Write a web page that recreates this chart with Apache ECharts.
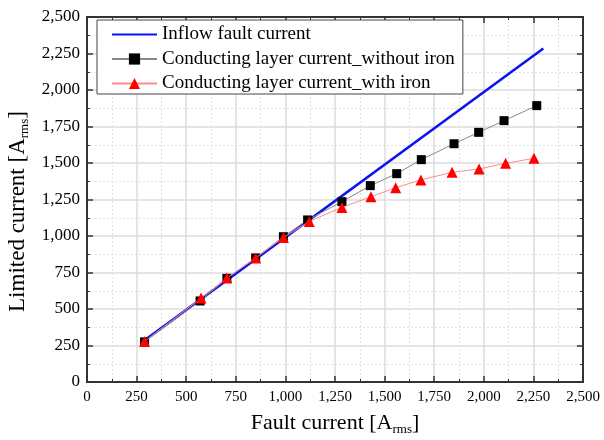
<!DOCTYPE html>
<html><head><meta charset="utf-8">
<script src="https://cdn.jsdelivr.net/npm/echarts@6/dist/echarts.min.js"></script>
<style>html,body{margin:0;padding:0;background:#fff}#c{width:604px;height:440px}</style>
</head><body><div id="c"></div>
<script>
const inflowX = [285, 2300];
const inflowY = [280, 2285];
const withoutX = [290, 570, 705, 850, 990, 1112, 1285, 1428, 1561, 1685, 1850, 1974, 2102, 2267];
const withoutY = [275, 555, 710, 850, 995, 1110, 1235, 1345, 1427, 1523, 1632, 1710, 1790, 1893];
const withX = [290, 575, 705, 850, 990, 1120, 1285, 1431, 1556, 1683, 1840, 1976, 2110, 2253];
const withY = [278, 575, 712, 850, 990, 1100, 1196, 1269, 1331, 1384, 1436, 1459, 1498, 1532];
const seriesNames = ['Inflow fault current', 'Conducting layer current_without iron', 'Conducting layer current_with iron'];

const zip = (a, b) => a.map((v, i) => [v, b[i]]);
const fmt = v => v.toLocaleString('en-US');
const font = 'Liberation Serif';

const axisCommon = {
  type: 'value', min: 0, max: 2500, interval: 250,
  axisLine: { show: true, onZero: false, lineStyle: { color: '#333', width: 2 } },
  axisTick: { show: true, inside: true, length: 6, lineStyle: { color: '#333', width: 1.5 } },
  minorTick: { show: true, splitNumber: 2, length: 3, lineStyle: { color: '#333', width: 1 } },
};

const chart = echarts.init(document.getElementById('c'));
chart.setOption({
  animation: false,
  textStyle: { fontFamily: font },
  grid: { left: 87, right: 21, top: 17, bottom: 58, outerBoundsMode: 'none', containLabel: false },
  legend: {
    orient: 'vertical', left: 97, top: 20,
    backgroundColor: '#fff', borderColor: '#444', borderWidth: 1,
    padding: [5, 8, 1, 14], itemGap: 5.5, itemWidth: 45, itemHeight: 14,
    textStyle: { fontFamily: font, fontSize: 19, lineHeight: 16, color: '#000' },
    data: [
      { name: seriesNames[0], itemStyle: { opacity: 0 } },
      seriesNames[1],
      seriesNames[2]
    ]
  },
  xAxis: [
    Object.assign({}, axisCommon, {
      position: 'bottom',
      name: 'Fault current [A{sub|rms}]', nameLocation: 'middle', nameGap: 28,
      nameTextStyle: { fontFamily: font, fontSize: 22, color: '#000',
        rich: { sub: { fontFamily: font, fontSize: 13, color: '#000', padding: [13, 0, 0, 0] } } },
      axisLabel: { fontFamily: font, fontSize: 15, color: '#000', margin: 8, formatter: fmt },
      splitLine: { show: true, lineStyle: { color: '#dcdcdc', width: 1.5 } },
      minorSplitLine: { show: true, lineStyle: { color: '#e2e2e2', width: 1, type: [2, 2] } }
    }),
    Object.assign({}, axisCommon, {
      position: 'top', axisLabel: { show: false }, splitLine: { show: false }
    })
  ],
  yAxis: [
    Object.assign({}, axisCommon, {
      position: 'left',
      name: 'Limited current [A{sub|rms}]', nameLocation: 'middle', nameGap: 47, nameRotate: 90,
      nameTextStyle: { fontFamily: font, fontSize: 23, color: '#000', padding: [0, 24, 0, 0],
        rich: { sub: { fontFamily: font, fontSize: 13, color: '#000', padding: [13, 0, 0, 0] } } },
      axisLabel: { fontFamily: font, fontSize: 17, color: '#000', margin: 7, formatter: fmt },
      splitLine: { show: true, lineStyle: { color: '#dcdcdc', width: 1.5 } },
      minorSplitLine: { show: true, lineStyle: { color: '#e2e2e2', width: 1, type: [2, 2] } }
    }),
    Object.assign({}, axisCommon, {
      position: 'right', axisLabel: { show: false }, splitLine: { show: false }
    })
  ],
  series: [
    {
      name: seriesNames[0], type: 'line', data: zip(inflowX, inflowY),
      showSymbol: false, symbol: 'none',
      lineStyle: { color: '#0a14f0', width: 2.5 }, itemStyle: { color: '#0a14f0' }, z: 3
    },
    {
      name: seriesNames[1], type: 'line', data: zip(withoutX, withoutY),
      symbol: 'rect', symbolSize: 9,
      lineStyle: { color: '#888', width: 1 }, itemStyle: { color: '#000' }, z: 4
    },
    {
      name: seriesNames[2], type: 'line', data: zip(withX, withY),
      symbol: 'triangle', symbolSize: 11,
      lineStyle: { color: '#ff8a8a', width: 1 }, itemStyle: { color: '#ff0000' }, z: 5
    }
  ]
});
</script></body></html>
